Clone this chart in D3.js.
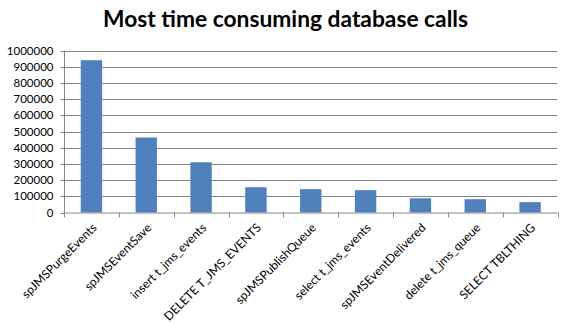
<!DOCTYPE html>
<html><head><meta charset="utf-8">
<script src="https://cdn.jsdelivr.net/npm/d3@7"></script>
<style>
html,body{margin:0;padding:0;background:#fff;}
svg{display:block;}
</style></head>
<body>
<svg id="chart" width="565" height="324"></svg>
<script>
const categories = ["spJMSPurgeEvents","spJMSEventSave","insert t_jms_events","DELETE T_JMS_EVENTS","spJMSPublishQueue","select t_jms_events","spJMSEventDelivered","delete t_jms_queue","SELECT TBLTHING"];
const values = [940000, 463000, 310000, 156000, 144000, 138000, 88000, 82000, 64000];
const yTicks = [0,100000,200000,300000,400000,500000,600000,700000,800000,900000,1000000];
const title = "Most time consuming database calls";

(function(){
const svg = d3.select("#chart");
const pl = 64, pr = 557.5, pt = 50.5, pb = 212.5;

const x = d3.scaleBand().domain(categories).range([pl, pr]).paddingInner(0.61).paddingOuter(0.305);
const xb = d3.scaleBand().domain(categories).range([pl, pr]);
const y = d3.scaleLinear().domain([0, 1000000]).range([pb, pt]);

svg.append("text").attr("x", 285.5).attr("y", 27).attr("text-anchor","middle")
  .attr("font-family","Lato, 'Open Sans', sans-serif").attr("font-weight","bold")
  .attr("font-size", 22).attr("fill","#000")
  .attr("textLength", 365).attr("lengthAdjust","spacingAndGlyphs").text(title);

// gridlines
svg.append("g").selectAll("line").data(yTicks.filter(d=>d>0)).join("line")
  .attr("x1", pl).attr("x2", pr).attr("y1", d=>Math.round(y(d))+0.5).attr("y2", d=>Math.round(y(d))+0.5)
  .attr("stroke","#868686").attr("stroke-width",1);

// y axis
const yAxis = d3.axisLeft(y).tickValues(yTicks).tickSize(4).tickPadding(7).tickFormat(d3.format("d"));
const gy = svg.append("g").attr("transform",`translate(${pl+0.5},0)`).call(yAxis);
gy.select(".domain").attr("stroke","#868686").attr("d", `M0,${pt}V${pb}`);
gy.selectAll(".tick line").attr("stroke","#868686");
gy.selectAll(".tick").attr("transform", d=>`translate(0,${Math.round(y(d))+0.5})`);
gy.selectAll(".tick text").attr("font-family","Lato, 'Open Sans', sans-serif").attr("font-size",11.5).attr("fill","#000");

// bars
svg.append("g").selectAll("rect").data(values).join("rect")
  .attr("x", (d,i)=>x(categories[i])).attr("width", x.bandwidth())
  .attr("y", d=>y(d)).attr("height", d=>pb - y(d))
  .attr("fill","#4F81BD");

// x axis
const xAxisG = svg.append("g");
xAxisG.append("line").attr("x1",pl).attr("x2",pr).attr("y1",pb+0.5).attr("y2",pb+0.5).attr("stroke","#868686");
const bounds = categories.map(c=>xb(c)).concat([pr]);
xAxisG.selectAll("line.t").data(bounds).join("line").attr("class","t")
  .attr("x1",d=>Math.round(d)+0.5).attr("x2",d=>Math.round(d)+0.5).attr("y1",pb).attr("y2",pb+5).attr("stroke","#868686");

svg.append("g").selectAll("text").data(categories).join("text")
  .attr("transform", d=>`translate(${xb(d)+xb.bandwidth()/2+3},${pb+13}) rotate(-45)`)
  .attr("text-anchor","end").attr("dy","0.35em")
  .attr("font-family","Lato, 'Open Sans', sans-serif").attr("font-size",12).attr("fill","#000")
  .text(d=>d);
})();
</script>
</body></html>
